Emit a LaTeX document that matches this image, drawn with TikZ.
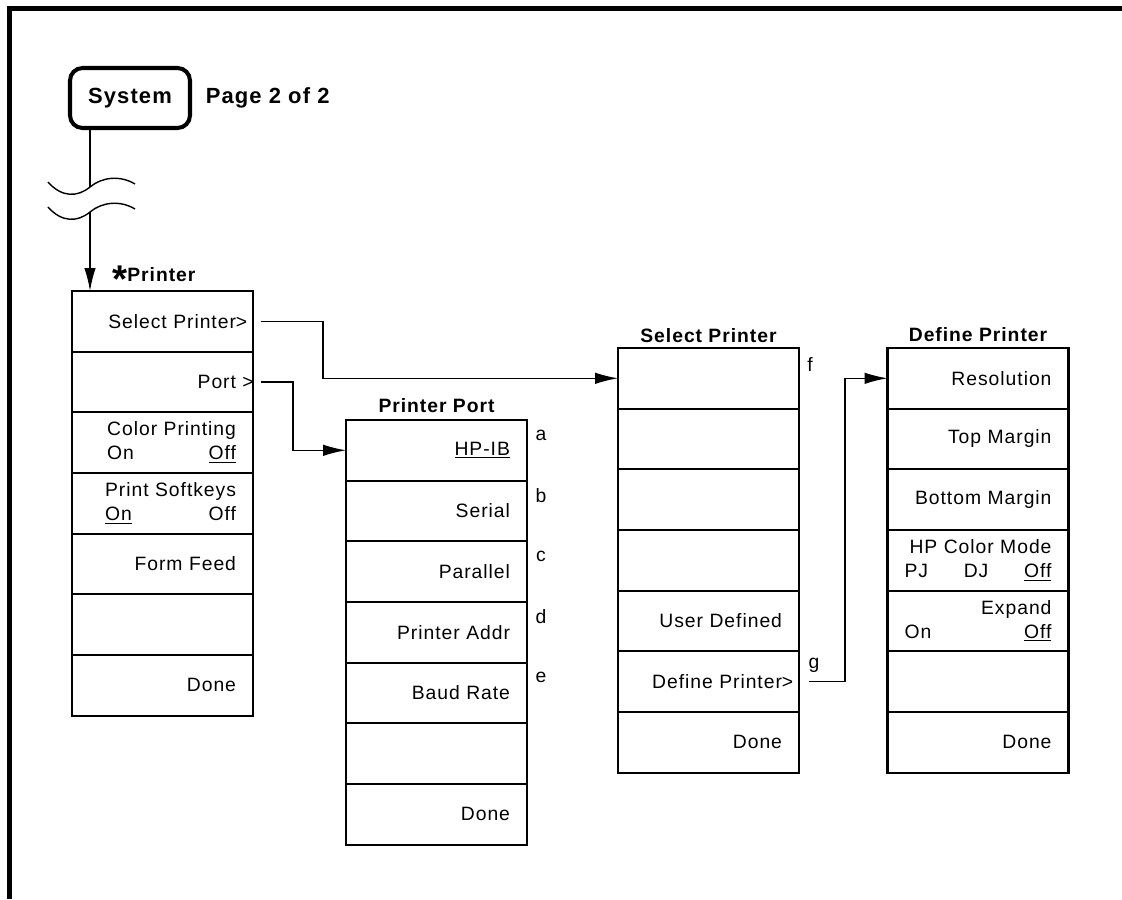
\documentclass[tikz,border=0pt]{standalone}
\usepackage{fontspec}
\setmainfont{Liberation Sans}[LetterSpace=5]
\usetikzlibrary{positioning,arrows.meta}

\newlength\keywd
\newcommand\keypair[3]{\settowidth\keywd{#1}#1\\\makebox[\keywd]{#2\hfill#3}}
\newcommand\keyfont{\fontsize{11}{13.6}\selectfont}

\tikzset{
  softkey/.style={draw, line width=1.2pt, minimum width=3.62cm, minimum height=1.214cm,
    text width=2.94cm, align=right, inner sep=0pt, outer sep=0pt, font=\keyfont},
  syskey/.style={draw, line width=2.3pt, rounded corners=0.25cm, minimum width=2.4cm,
    minimum height=1.2cm, font=\fontsize{12.5}{14}\selectfont\bfseries},
  menutitle/.style={font=\keyfont\bfseries, inner sep=0pt, text depth=0pt},
  tag/.style={font=\keyfont, inner sep=0pt},
  link/.style={line width=0.8pt},
  arr/.style={link, -{Latex[length=13pt,width=6.5pt]}},
}

\begin{document}
\begin{tikzpicture}[x=0.02cm, y=-0.02cm, node distance=0pt]
\useasboundingbox (0,0) rectangle (1122,899);
\draw[line width=2.3pt] (9.5,899) -- (9.5,8.5) -- (1122,8.5);

% hardkey
\node[syskey] (sysk) at (130,98) {System};
\node[font=\fontsize{12.5}{14}\selectfont\bfseries, inner sep=0pt, right=0.27cm of sysk] (pgno) {Page 2 of 2};

% break in the path
\coordinate (cut1) at (90,187);
\coordinate (cut2) at (90,212);
\draw[link] (48,182) .. controls (62,198) and (78,197) .. (cut1) .. controls (102,177) and (120,175) .. (135,184);
\draw[link] (48,207) .. controls (62,223) and (78,222) .. (cut2) .. controls (102,202) and (120,200) .. (135,209);

% Printer menu
\node[softkey] (pr1) at (162.5,321.3) {Select Printer\rlap{>}};
\node[softkey, below=of pr1] (pr2) {Port\rlap{ >}};
\node[softkey, below=of pr2] (pr3) {\keypair{Color Printing}{On}{\underline{Off}}};
\node[softkey, below=of pr3] (pr4) {\keypair{Print Softkeys}{\underline{On}}{Off}};
\node[softkey, below=of pr4] (pr5) {Form Feed};
\node[softkey, below=of pr5] (pr6) {};
\node[softkey, below=of pr6] (pr7) {Done};
\node[menutitle, anchor=south west] (prttl) at (112,282) {{\fontsize{22}{22}\selectfont\raisebox{-0.27em}{*}}Printer};

\draw[link] (sysk.south -| cut1) -- (cut1);
\draw[arr] (cut2) -- (cut2 |- pr1.north);

% Printer Port menu
\node[softkey] (pp1) at (436.5,450.3) {\underline{HP-IB}};
\node[softkey, below=of pp1] (pp2) {Serial};
\node[softkey, below=of pp2] (pp3) {Parallel};
\node[softkey, below=of pp3] (pp4) {Printer Addr};
\node[softkey, below=of pp4] (pp5) {Baud Rate};
\node[softkey, below=of pp5] (pp6) {};
\node[softkey, below=of pp6] (pp7) {Done};
\node[menutitle, above=0.14cm of pp1] (ppttl) {Printer Port};
\node[tag] (tga) at ([shift={(14,15)}]pp1.north east) {a};
\node[tag] (tgb) at ([shift={(14,15)}]pp2.north east) {b};
\node[tag] (tgc) at ([shift={(14,15)}]pp3.north east) {c};
\node[tag] (tgd) at ([shift={(14,15)}]pp4.north east) {d};
\node[tag] (tge) at ([shift={(14,15)}]pp5.north east) {e};

% Select Printer menu
\node[softkey] (sp1) at (708.5,378.3) {};
\node[softkey, below=of sp1] (sp2) {};
\node[softkey, below=of sp2] (sp3) {};
\node[softkey, below=of sp3] (sp4) {};
\node[softkey, below=of sp4] (sp5) {User Defined};
\node[softkey, below=of sp5] (sp6) {Define Printer\rlap{>}};
\node[softkey, below=of sp6] (sp7) {Done};
\node[menutitle, above=0.11cm of sp1] (spttl) {Select Printer};
\node[tag] (tgf) at ([shift={(11,17)}]sp1.north east) {f};
\node[tag] (tgg) at ([shift={(15,14)}]sp6.north east) {g};

% Define Printer menu
\node[softkey] (dp1) at (978,378.3) {Resolution};
\node[softkey, below=of dp1] (dp2) {Top Margin};
\node[softkey, below=of dp2] (dp3) {Bottom Margin};
\node[softkey, below=of dp3] (dp4) {HP Color Mode\\PJ\hfill DJ\hfill\underline{Off}};
\node[softkey, below=of dp4] (dp5) {Expand\\On\hfill\underline{Off}};
\node[softkey, below=of dp5] (dp6) {};
\node[softkey, below=of dp6] (dp7) {Done};
\node[menutitle, above=0.12cm of dp1] (dpttl) {Define Printer};

% links between menus
\draw[arr, shorten <=0.16cm] (pr1.east) -- ++(70,0) |- (sp1.west);
\draw[arr, shorten <=0.16cm] (pr2.east) -- ++(40,0) |- (pp1.west);
\draw[arr, shorten <=0.2cm] (sp6.east) -- ++(46,0) |- (dp1.west);
\end{tikzpicture}
\end{document}
